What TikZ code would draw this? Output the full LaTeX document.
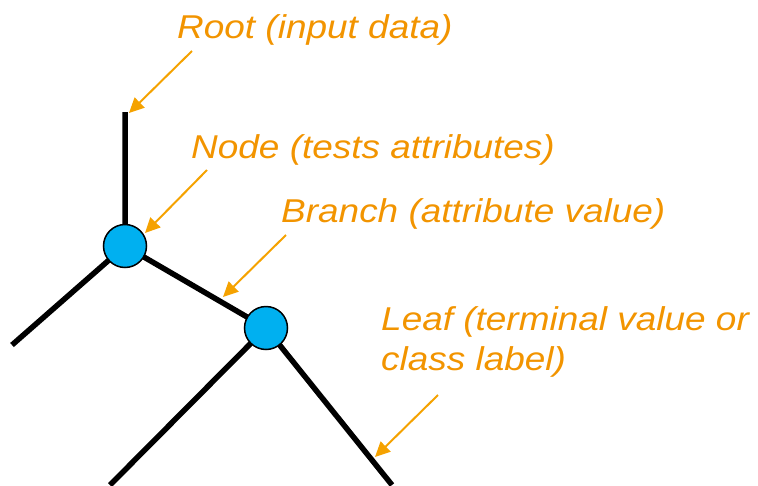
\documentclass[tikz,border=0pt]{standalone}
\usepackage{fontspec}
\usetikzlibrary{arrows.meta,backgrounds}
\newfontfamily\lblfont[FakeStretch=1.12]{Liberation Sans}
\definecolor{labelorange}{HTML}{F29400}
\definecolor{arroworange}{HTML}{F5A200}
\definecolor{nodeblue}{HTML}{00B0F0}

\begin{document}
\begin{tikzpicture}[x=1pt,y=-1pt,
  treenode/.style={circle,draw=black,line width=1.5pt,fill=nodeblue,minimum size=43pt,inner sep=0pt},
  edge/.style={line width=5.5pt,black},
  lbl/.style={anchor=base west,inner sep=0pt,text=labelorange,font=\lblfont\itshape\fontsize{33}{40}\selectfont,align=left},
  pointer/.style={arroworange,line width=2pt,-{Triangle[length=15pt,width=14pt]}}]
  \useasboundingbox (0,0) rectangle (758,485);
  % tree
  \node[treenode] (n1) at (125,246) {};
  \node[treenode] (n2) at (266,328) {};
  \coordinate (top) at (125,112);
  \coordinate (leafL) at (12,345);
  \coordinate (leafA) at (110,485);
  \coordinate (leafB) at (392,485);
  \begin{scope}[on background layer]
    \draw[edge] (top) -- (n1.center) -- (leafL);
    \draw[edge] (n1.center) -- (n2.center);
    \draw[edge] (leafA) -- (n2.center) -- (leafB);
  \end{scope}
  % labels
  \node[lbl] (root) at (177,38) {Root (input data)};
  \node[lbl] (test) at (191,158) {Node (tests attributes)};
  \node[lbl] (branch) at (281,222) {Branch (attribute value)};
  \node[lbl,anchor=north west] (leaf) at (381,306) {Leaf (terminal value or\\class label)};
  % pointers
  \coordinate (p1) at (192,51);  \coordinate (t1) at (129,113);
  \coordinate (p2) at (207,170); \coordinate (t2) at (145,233);
  \coordinate (p3) at (286,235); \coordinate (t3) at (223,297);
  \coordinate (p4) at (438,395); \coordinate (t4) at (375,457);
  \foreach \i in {1,...,4} \draw[pointer] (p\i) -- (t\i);
\end{tikzpicture}
\end{document}
